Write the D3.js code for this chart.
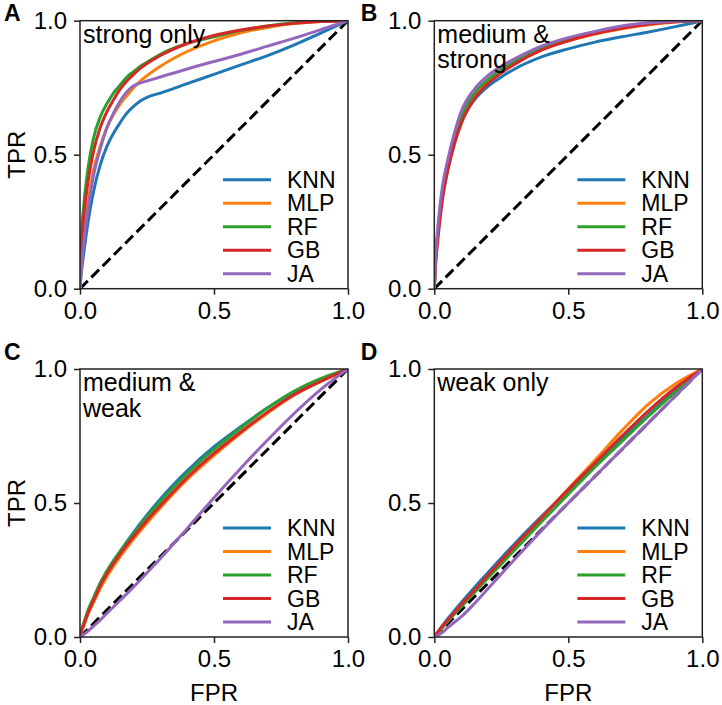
<!DOCTYPE html>
<html>
<head>
<meta charset="utf-8">
<script src="https://cdn.jsdelivr.net/npm/d3@7"></script>
<style>
  html, body { margin: 0; padding: 0; background: #fff; }
  svg text { font-family: "Liberation Sans", Arial, sans-serif; fill: #000; }
</style>
</head>
<body>
<svg id="chart" width="722" height="705"></svg>
<script>
// ---------- data ----------
const models = ["KNN", "MLP", "RF", "GB", "JA"];
const colors = ["#1f77b4", "#ff7f0e", "#2ca02c", "#d62728", "#9467bd"];
const panelLetters = ["A", "B", "C", "D"];
const panelTitles = [["strong only"], ["medium &", "strong"], ["medium &", "weak"], ["weak only"]];
const tickValues = [0, 0.5, 1];
const tickLabels = ["0.0", "0.5", "1.0"];

// FPR grids
const fprA = [0, .005, .015, .03, .05, .075, .1, .125, .15, .175, .2, .225, .25, .3, .4, .5, .6, .7, .8, .9, 1];
const fprG = [0, .005, .015, .03, .05, .075, .1, .15, .2, .25, .3, .4, .5, .6, .7, .8, .9, 1];

// Panel A: strong only (TPR)
const tprA_KNN = [0, .06, .14, .25, .36, .46, .53, .58, .62, .655, .68, .70, .714, .73, .765, .80, .835, .87, .91, .955, 1];
const tprA_MLP = [0, .10, .20, .32, .44, .53, .60, .65, .69, .72, .75, .775, .795, .83, .885, .925, .955, .975, .99, .997, 1];
const tprA_RF  = [0, .18, .32, .45, .56, .64, .69, .73, .76, .79, .81, .83, .845, .875, .915, .94, .963, .98, .992, .998, 1];
const tprA_GB  = [0, .15, .28, .40, .51, .60, .66, .705, .745, .775, .80, .822, .84, .87, .915, .945, .965, .98, .99, .997, 1];
const tprA_JA  = [0, .08, .18, .30, .42, .52, .60, .655, .70, .735, .757, .768, .775, .79, .82, .848, .875, .905, .935, .967, 1];

// Panel B: medium & strong
const tprB_KNN = [0, .11, .22, .34, .445, .545, .62, .705, .755, .79, .82, .865, .895, .92, .94, .958, .978, 1];
const tprB_MLP = [0, .10, .22, .35, .455, .555, .635, .725, .775, .812, .843, .893, .925, .95, .97, .985, .995, 1];
const tprB_RF  = [0, .11, .23, .36, .465, .565, .64, .73, .78, .818, .848, .90, .933, .958, .978, .99, .997, 1];
const tprB_GB  = [0, .09, .20, .33, .44, .54, .615, .71, .765, .805, .838, .89, .925, .952, .972, .987, .996, 1];
const tprB_JA  = [0, .12, .25, .38, .48, .58, .66, .745, .795, .83, .858, .905, .937, .96, .98, .992, .998, 1];

// Panel C: medium & weak
const tprC_KNN = [0, .02, .05, .095, .14, .20, .245, .32, .39, .455, .515, .62, .71, .785, .855, .915, .96, 1];
const tprC_MLP = [0, .018, .045, .085, .128, .18, .225, .30, .365, .425, .482, .588, .678, .76, .835, .903, .955, 1];
const tprC_RF  = [0, .025, .055, .10, .145, .20, .245, .32, .385, .448, .505, .61, .70, .78, .855, .918, .965, 1];
const tprC_GB  = [0, .02, .048, .09, .135, .19, .235, .31, .375, .435, .49, .595, .685, .765, .84, .905, .955, 1];
const tprC_JA  = [0, .003, .01, .022, .04, .063, .088, .137, .187, .24, .293, .405, .52, .63, .735, .835, .925, 1];

// Panel D: weak only
const tprD_KNN = [0, .008, .022, .042, .068, .098, .128, .185, .24, .295, .348, .45, .548, .645, .74, .83, .92, 1];
const tprD_MLP = [0, .006, .018, .036, .06, .088, .115, .17, .225, .28, .335, .445, .553, .66, .77, .87, .945, 1];
const tprD_RF  = [0, .006, .018, .036, .058, .085, .112, .166, .22, .272, .325, .43, .533, .635, .73, .825, .915, 1];
const tprD_GB  = [0, .007, .02, .04, .063, .092, .12, .175, .23, .285, .34, .445, .55, .65, .75, .845, .93, 1];
const tprD_JA  = [0, .002, .008, .017, .035, .055, .075, .125, .18, .235, .29, .397, .5, .6, .7, .8, .9, 1];

const panels = [
  { fpr: fprA, tpr: [tprA_KNN, tprA_MLP, tprA_RF, tprA_GB, tprA_JA] },
  { fpr: fprG, tpr: [tprB_KNN, tprB_MLP, tprB_RF, tprB_GB, tprB_JA] },
  { fpr: fprG, tpr: [tprC_KNN, tprC_MLP, tprC_RF, tprC_GB, tprC_JA] },
  { fpr: fprG, tpr: [tprD_KNN, tprD_MLP, tprD_RF, tprD_GB, tprD_JA] }
];

// ---------- layout ----------
const svg = d3.select("#chart");
const W = 268, H = 268;
const lefts = [80, 434.3], tops = [20.7, 369];
const FS = 24;       // ticks, axis titles
const FS_LEG = 23;   // legend
const FS_ANN = 25;   // in-panel title

panels.forEach((p, i) => {
  const col = i % 2, row = Math.floor(i / 2);
  const x0 = lefts[col], y0 = tops[row];
  const g = svg.append("g").attr("transform", `translate(${x0},${y0})`);
  const x = d3.scaleLinear().domain([0, 1]).range([0, W]);
  const y = d3.scaleLinear().domain([0, 1]).range([H, 0]);

  const clipId = "clip" + i;
  g.append("clipPath").attr("id", clipId)
    .append("rect").attr("x", 0).attr("y", 0).attr("width", W).attr("height", H);

  const plot = g.append("g").attr("clip-path", `url(#${clipId})`);

  // diagonal
  plot.append("path")
    .datum([[0, 0], [1, 1]])
    .attr("d", d3.line().x(d => x(d[0])).y(d => y(d[1])))
    .attr("fill", "none").attr("stroke", "#000")
    .attr("stroke-width", 3).attr("stroke-dasharray", "11,5");

  const line = d3.line().x(d => x(d[0])).y(d => y(d[1])).curve(d3.curveMonotoneX);
  p.tpr.forEach((t, k) => {
    const pts = p.fpr.map((f, j) => [f, t[j]]);
    plot.append("path").datum(pts)
      .attr("d", line)
      .attr("fill", "none").attr("stroke", colors[k])
      .attr("stroke-width", 3).attr("stroke-linejoin", "round");
  });

  // frame
  g.append("rect").attr("x", 0).attr("y", 0).attr("width", W).attr("height", H)
    .attr("fill", "none").attr("stroke", "#222").attr("stroke-width", 1.5);

  // axes
  const xa = g.append("g").attr("transform", `translate(0,${H})`)
    .call(d3.axisBottom(x).tickValues(tickValues).tickFormat((d, j) => tickLabels[j]).tickSizeOuter(0).tickSize(6).tickPadding(7));
  const ya = g.append("g")
    .call(d3.axisLeft(y).tickValues(tickValues).tickFormat((d, j) => tickLabels[j]).tickSizeOuter(0).tickSize(6).tickPadding(7));
  [xa, ya].forEach(a => {
    a.select(".domain").remove();
    a.selectAll(".tick line").attr("stroke", "#222").attr("stroke-width", 1.5);
    a.selectAll(".tick text").attr("font-size", FS).attr("font-family", "Liberation Sans, Arial, sans-serif").attr("fill", "#000");
  });

  // axis titles
  if (col === 0) {
    g.append("text").attr("transform", `translate(-55,${H / 2}) rotate(-90)`)
      .attr("text-anchor", "middle").attr("font-size", FS).text("TPR");
  }
  if (row === 1) {
    g.append("text").attr("x", W / 2).attr("y", H + 64)
      .attr("text-anchor", "middle").attr("font-size", FS).text("FPR");
  }

  // panel title inside
  panelTitles[i].forEach((t, j) => {
    g.append("text").attr("x", 3).attr("y", 22 + j * 25.5)
      .attr("font-size", FS_ANN).text(t);
  });

  // panel letter
  g.append("text").attr("x", col === 0 ? -76 : -73.5).attr("y", row === 0 ? 0.5 : -9)
    .attr("font-size", 23).attr("font-weight", "bold").text(panelLetters[i]);

  // legend
  const leg = g.append("g");
  models.forEach((m, k) => {
    const ly = 159 + k * 23.5;
    leg.append("line").attr("x1", 143).attr("x2", 191).attr("y1", ly).attr("y2", ly)
      .attr("stroke", colors[k]).attr("stroke-width", 3);
    leg.append("text").attr("x", 207).attr("y", ly + 8)
      .attr("font-size", FS_LEG).text(m);
  });
});
</script>
</body>
</html>
